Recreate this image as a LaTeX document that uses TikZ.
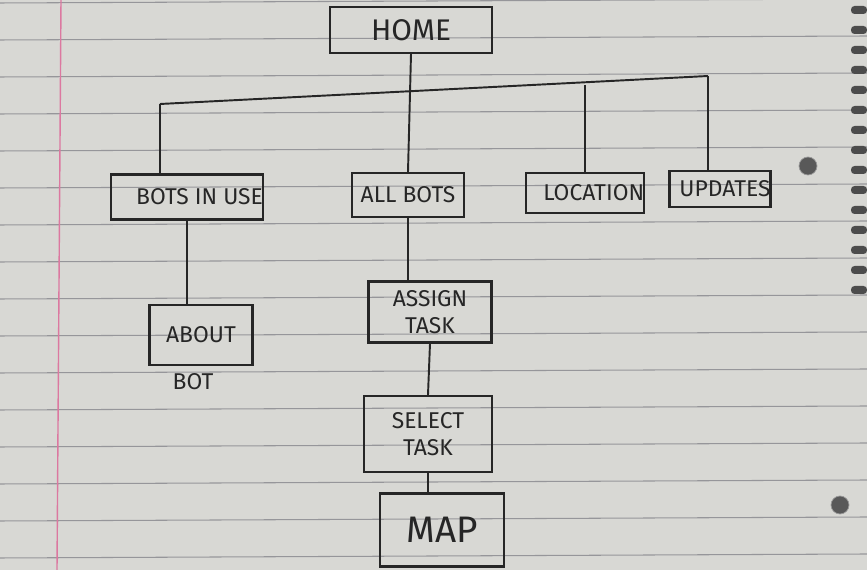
\documentclass[tikz,border=0pt]{standalone}
\usepackage{fontspec}
\setmainfont{Fira Sans}
\definecolor{paper}{RGB}{216,216,212}
\definecolor{rule}{RGB}{150,150,154}
\definecolor{margin}{RGB}{220,120,160}
\definecolor{ink}{RGB}{38,38,38}
\begin{document}
\begin{tikzpicture}[x=0.02cm,y=-0.02cm,
  box/.style={draw=ink,line width=1.3pt,inner sep=0pt,align=center,text=ink,font=\fontsize{13}{15}\selectfont},
  conn/.style={draw=ink,line width=1.1pt},
  ruleline/.style={draw=rule,line width=0.6pt},
  hole/.style={fill=black!65,draw=black!40}]
% paper
\fill[paper] (0,0) rectangle (867,570);
\useasboundingbox (0,0) rectangle (867,570);
\foreach \k in {0,...,15}{\draw[ruleline] (0,3+37*\k) -- (867,3+37*\k-4);}
\draw[margin,line width=0.8pt] (61,0) -- (57,570);
\filldraw[hole] (808,166) circle (9);
\filldraw[hole] (840,505) circle (9);
\foreach \k in {0,...,14}{\fill[black!70,rounded corners=2pt] (851,6+20*\k) rectangle (867,14+20*\k);}
% nodes
\node[box,minimum width=3.24cm,minimum height=0.92cm,font=\fontsize{17}{19}\selectfont] (home) at (411,30) {HOME};
\node[box,minimum width=2.92cm,minimum height=0.9cm] (botsinuse) at (187,197) {\hspace*{0.5cm}BOTS IN USE};
\node[box,minimum width=2.24cm,minimum height=0.88cm] (allbots) at (408,195) {ALL BOTS};
\node[box,minimum width=1.7cm,minimum height=0.8cm] (location) at (585,193) {\hspace*{0.35cm}LOCATION};
\node[box,minimum width=1.92cm,minimum height=0.72cm] (updates) at (720,189) {\hspace*{0.2cm}UPDATES};
\node[box,minimum width=2.06cm,minimum height=1.2cm] (about) at (201,335) {ABOUT};
\node[text=ink,font=\fontsize{13}{15}\selectfont,inner sep=0pt] (bot) at (193,382) {BOT};
\node[box,minimum width=2.46cm,minimum height=1.22cm] (assign) at (430,312) {ASSIGN\\TASK};
\node[box,minimum width=2.56cm,minimum height=1.52cm] (select) at (428,434) {SELECT\\TASK};
\node[box,minimum width=2.48cm,minimum height=1.46cm,font=\fontsize{21}{23}\selectfont] (map) at (442,530) {MAP};
% bus coordinates
\coordinate (bl) at (160,104);
\coordinate (br) at (708,76);
\coordinate (bloc) at (585,85);
% connectors
\draw[conn] (bl) -- (br);
\draw[conn] (home.south) -- (allbots.north);
\draw[conn] (bl) -- (bl |- botsinuse.north);
\draw[conn] (bloc) -- (bloc |- location.north);
\draw[conn] (br) -- (br |- updates.north);
\draw[conn] (botsinuse.south) -- (botsinuse.south |- about.north);
\draw[conn] (allbots.south) -- (allbots.south |- assign.north);
\draw[conn] (assign.south) -- (select.north);
\draw[conn] (select.south) -- (select.south |- map.north);
\end{tikzpicture}
\end{document}
